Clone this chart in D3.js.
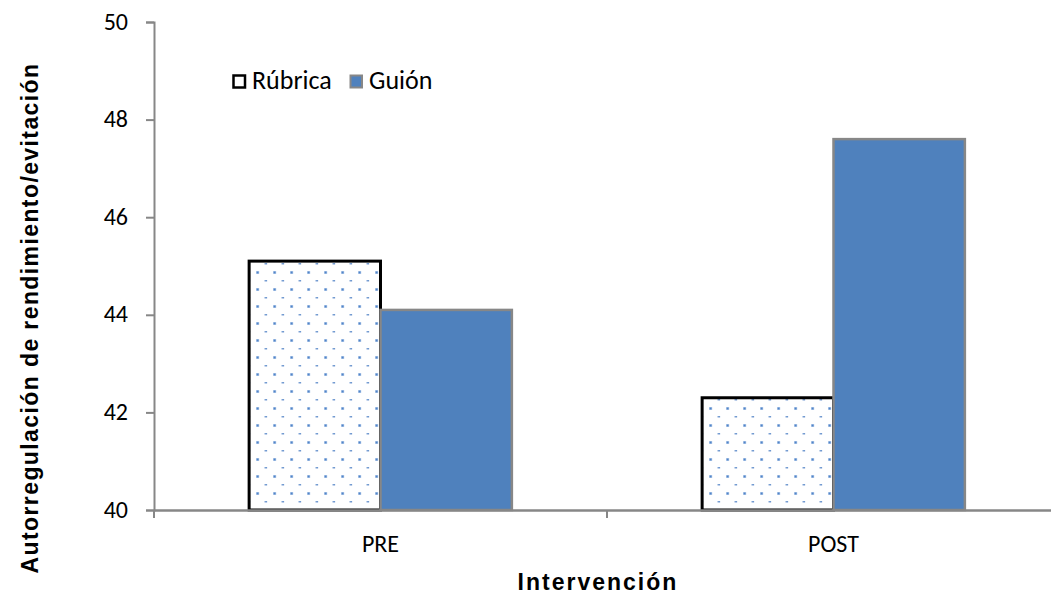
<!DOCTYPE html>
<html>
<head>
<meta charset="utf-8">
<script src="https://cdn.jsdelivr.net/npm/d3@7"></script>
<style>
  html, body { margin: 0; padding: 0; background: #fff; }
  svg { display: block; }
</style>
</head>
<body>
<svg id="chart" width="1051" height="599"></svg>
<script>
// Chart data
const categories = ["PRE", "POST"];
const seriesNames = ["Rúbrica", "Guión"];
const rubricaValues = [45.1, 42.3];
const guionValues = [44.1, 47.6];
const yTicks = [40, 42, 44, 46, 48, 50];
const yTitle = "Autorregulación de rendimiento/evitación";
const xTitle = "Intervención";

const rows = categories.map((c, i) => ({
  category: c,
  values: [
    { series: seriesNames[0], value: rubricaValues[i] },
    { series: seriesNames[1], value: guionValues[i] }
  ]
}));

const svg = d3.select("#chart");
const margin = { left: 154, top: 22 };
const plotW = 906, plotH = 488;
const baseFont = "Carlito, Calibri, Lato, sans-serif";
const titleFont = "'Liberation Sans', Arial, sans-serif";

// Dotted fill for the first series
const defs = svg.append("defs");
const pat = defs.append("pattern")
  .attr("id", "dots")
  .attr("patternUnits", "userSpaceOnUse")
  .attr("x", 3).attr("y", 7)
  .attr("width", 17).attr("height", 17);
pat.append("rect").attr("width", 17).attr("height", 17).attr("fill", "#fff");
pat.append("rect").attr("x", 4).attr("y", 4).attr("width", 3).attr("height", 3).attr("fill", "#b9d0ee");
pat.append("rect").attr("x", 4.5).attr("y", 4.5).attr("width", 2).attr("height", 2).attr("fill", "#4a7fc4");
pat.append("rect").attr("x", 12.5).attr("y", 13).attr("width", 2.5).attr("height", 1.5).attr("fill", "#6f98d0");

const g = svg.append("g").attr("transform", `translate(${margin.left},${margin.top})`);

const x0 = d3.scaleBand().domain(categories).range([0, plotW]).paddingInner(0.42).paddingOuter(0.21);
const x1 = d3.scaleBand().domain(seriesNames).range([0, x0.bandwidth()]);
const y = d3.scaleLinear().domain([40, 50]).range([plotH, 0]);

// Bars
const groups = g.selectAll(".grp").data(rows).join("g")
  .attr("transform", d => `translate(${x0(d.category)},0)`);

groups.selectAll("rect").data(d => d.values).join("rect")
  .attr("x", d => x1(d.series))
  .attr("y", d => y(d.value))
  .attr("width", x1.bandwidth())
  .attr("height", d => y(40) - y(d.value))
  .attr("fill", d => d.series === seriesNames[0] ? "url(#dots)" : "#4f81bd")
  .attr("stroke", d => d.series === seriesNames[0] ? "#000" : "#878787")
  .attr("stroke-width", d => d.series === seriesNames[0] ? 3 : 2.5);

// Guión bars sit above their neighbours so the shared edge shows grey
groups.selectAll("rect").filter(d => d.series === seriesNames[1]).raise();

// Y axis
const yAxis = g.append("g")
  .call(d3.axisLeft(y).tickValues(yTicks).tickFormat(d3.format("d")).tickSize(8).tickPadding(18));
yAxis.select(".domain").attr("stroke", "#878787").attr("stroke-width", 2);
yAxis.selectAll(".tick line").attr("stroke", "#878787").attr("stroke-width", 2);
yAxis.selectAll(".tick text")
  .attr("font-family", baseFont).attr("font-size", 24).attr("fill", "#000")
  .attr("dy", 7);

// X axis
const xAxis = g.append("g").attr("transform", `translate(0,${plotH})`)
  .call(d3.axisBottom(x0).tickSize(0));
xAxis.select(".domain").attr("stroke", "#878787").attr("stroke-width", 2.5);
xAxis.selectAll(".tick text")
  .attr("font-family", baseFont).attr("font-size", 24).attr("fill", "#000")
  .attr("dy", null).attr("y", 42);
// Category separators
const sepPos = [0, plotW / 2, plotW];
xAxis.selectAll(".sep").data(sepPos).join("line")
  .attr("x1", d => d).attr("x2", d => d)
  .attr("y1", 0).attr("y2", 8)
  .attr("stroke", "#878787").attr("stroke-width", 2);

// Axis titles
svg.append("text")
  .attr("transform", `translate(38,318) rotate(-90)`)
  .attr("text-anchor", "middle")
  .attr("font-family", titleFont)
  .attr("font-weight", "bold").attr("font-size", 23)
  .attr("letter-spacing", 1.4)
  .text(yTitle);

svg.append("text")
  .attr("x", 598).attr("y", 590)
  .attr("text-anchor", "middle")
  .attr("font-family", titleFont)
  .attr("font-weight", "bold").attr("font-size", 23)
  .attr("letter-spacing", 2)
  .text(xTitle);

// Legend
const legend = svg.append("g").attr("transform", "translate(232,74)");
const legItems = [
  { name: seriesNames[0], fill: "#fff", stroke: "#000", sw: 2.5, x: 0 },
  { name: seriesNames[1], fill: "#4f81bd", stroke: "#878787", sw: 2, x: 117 }
];
const li = legend.selectAll("g").data(legItems).join("g")
  .attr("transform", d => `translate(${d.x},0)`);
li.append("rect")
  .attr("x", 1.5).attr("y", 1.5).attr("width", 11.5).attr("height", 12)
  .attr("fill", d => d.fill).attr("stroke", d => d.stroke).attr("stroke-width", d => d.sw);
li.append("text")
  .attr("x", 20).attr("y", 15)
  .attr("font-family", baseFont).attr("font-size", 26)
  .text(d => d.name);
</script>
</body>
</html>
